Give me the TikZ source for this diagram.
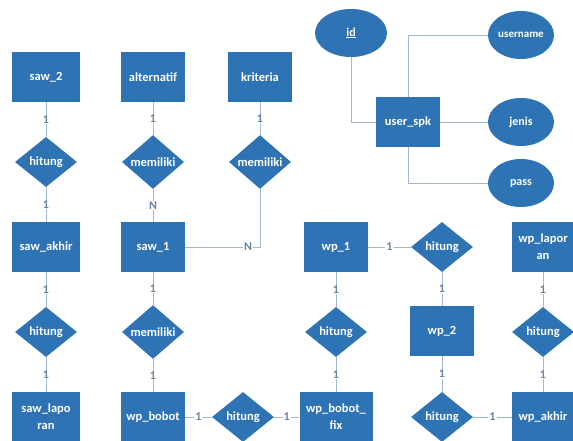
\documentclass[tikz,border=0pt]{standalone}
\usepackage{fontspec}
\setmainfont{Carlito}
\usetikzlibrary{shapes.geometric}
\definecolor{erblue}{HTML}{2E73B4}
\definecolor{erline}{HTML}{A3B8CF}
\definecolor{ercard}{HTML}{6684A6}
\begin{document}
\begin{tikzpicture}[x=1pt,y=-1pt,
 entity/.style={rectangle,fill=erblue,text=white,font=\bfseries\fontsize{12.5}{17}\selectfont,
   minimum width=64pt,minimum height=50pt,inner sep=0pt,align=center},
 relasi/.style={diamond,fill=erblue,text=white,font=\bfseries\fontsize{12.5}{14}\selectfont,
   minimum width=62pt,minimum height=50pt,inner sep=0pt},
 atribut/.style={ellipse,fill=erblue,text=white,font=\bfseries\fontsize{12}{14}\selectfont,
   minimum width=66pt,minimum height=48pt,inner sep=0pt},
 link/.style={draw=erline,line width=0.8pt},
 card/.style={fill=white,text=ercard,font=\bfseries\fontsize{12}{12}\selectfont,inner sep=1pt}]
\useasboundingbox (0,0) rectangle (573,441);
% kolom saw
\node[entity,minimum width=68pt] (saw2) at (46,77) {saw\_2};
\node[relasi] (hitungA) at (46,162) {hitung};
\node[entity,minimum width=68pt] (sawakhir) at (46,247) {saw\_akhir};
\node[relasi] (hitungC) at (46,332) {hitung};
\node[entity,minimum width=68pt] (sawlaporan) at (46,417) {saw\_lapo\\ran};
% alternatif, kriteria
\node[entity] (alternatif) at (153,77) {alternatif};
\node[entity] (kriteria) at (260,77) {kriteria};
\node[relasi] (memilikiA) at (153,162) {memiliki};
\node[relasi] (memilikiB) at (260,162) {memiliki};
\node[entity] (saw1) at (153,247) {saw\_1};
\node[relasi] (memilikiC) at (153,332) {memiliki};
\node[entity] (wpbobot) at (153,417) {wp\_bobot};
\node[relasi] (hitungF) at (243,417) {hitung};
% kolom wp
\node[entity] (wp1) at (336,247) {wp\_1};
\node[relasi] (hitungD) at (336,332) {hitung};
\node[entity,minimum width=73pt] (wpbobotfix) at (336,417) {wp\_bobot\_\\fix};
\node[relasi] (hitungB) at (442,247) {hitung};
\node[entity] (wp2) at (442,331) {wp\_2};
\node[relasi] (hitungG) at (442,417) {hitung};
\node[entity,minimum width=62pt] (wplaporan) at (543,247) {wp\_lapor\\an};
\node[relasi] (hitungE) at (543,332) {hitung};
\node[entity,minimum width=62pt] (wpakhir) at (543,417) {wp\_akhir};
% user
\node[entity] (userspk) at (408,122) {user\_spk};
\node[atribut,minimum width=72pt] (id) at (351,33) {\underline{id}};
\node[atribut,font=\bfseries\fontsize{11}{13}\selectfont] (username) at (521,35) {username};
\node[atribut] (jenis) at (521,122) {jenis};
\node[atribut] (pass) at (521,183) {pass};

\draw[link] (saw2) -- node[card]{1} (hitungA);
\draw[link] (hitungA) -- node[card]{1} (sawakhir);
\draw[link] (sawakhir) -- node[card]{1} (hitungC);
\draw[link] (hitungC) -- node[card]{1} (sawlaporan);
\draw[link] (alternatif) -- node[card]{1} (memilikiA);
\draw[link] (memilikiA) -- node[card]{N} (saw1);
\draw[link] (kriteria) -- node[card]{1} (memilikiB);
\draw[link] (saw1) -| node[card,pos=0.42]{N} (memilikiB);
\draw[link] (saw1) -- node[card]{1} (memilikiC);
\draw[link] (memilikiC) -- node[card]{1} (wpbobot);
\draw[link] (wpbobot) -- node[card]{1} (hitungF);
\draw[link] (hitungF) -- node[card]{1} (wpbobotfix);
\draw[link] (wp1) -- node[card]{1} (hitungB);
\draw[link] (hitungB) -- node[card]{1} (wp2);
\draw[link] (wp1) -- node[card]{1} (hitungD);
\draw[link] (hitungD) -- node[card]{1} (wpbobotfix);
\draw[link] (wp2) -- node[card]{1} (hitungG);
\draw[link] (hitungG) -- node[card]{1} (wpakhir);
\draw[link] (wplaporan) -- node[card]{1} (hitungE);
\draw[link] (hitungE) -- node[card]{1} (wpakhir);
\draw[link] (id) |- (userspk);
\draw[link] (userspk) |- (username);
\draw[link] (userspk) -- (jenis);
\draw[link] (userspk) |- (pass);
\end{tikzpicture}
\end{document}
